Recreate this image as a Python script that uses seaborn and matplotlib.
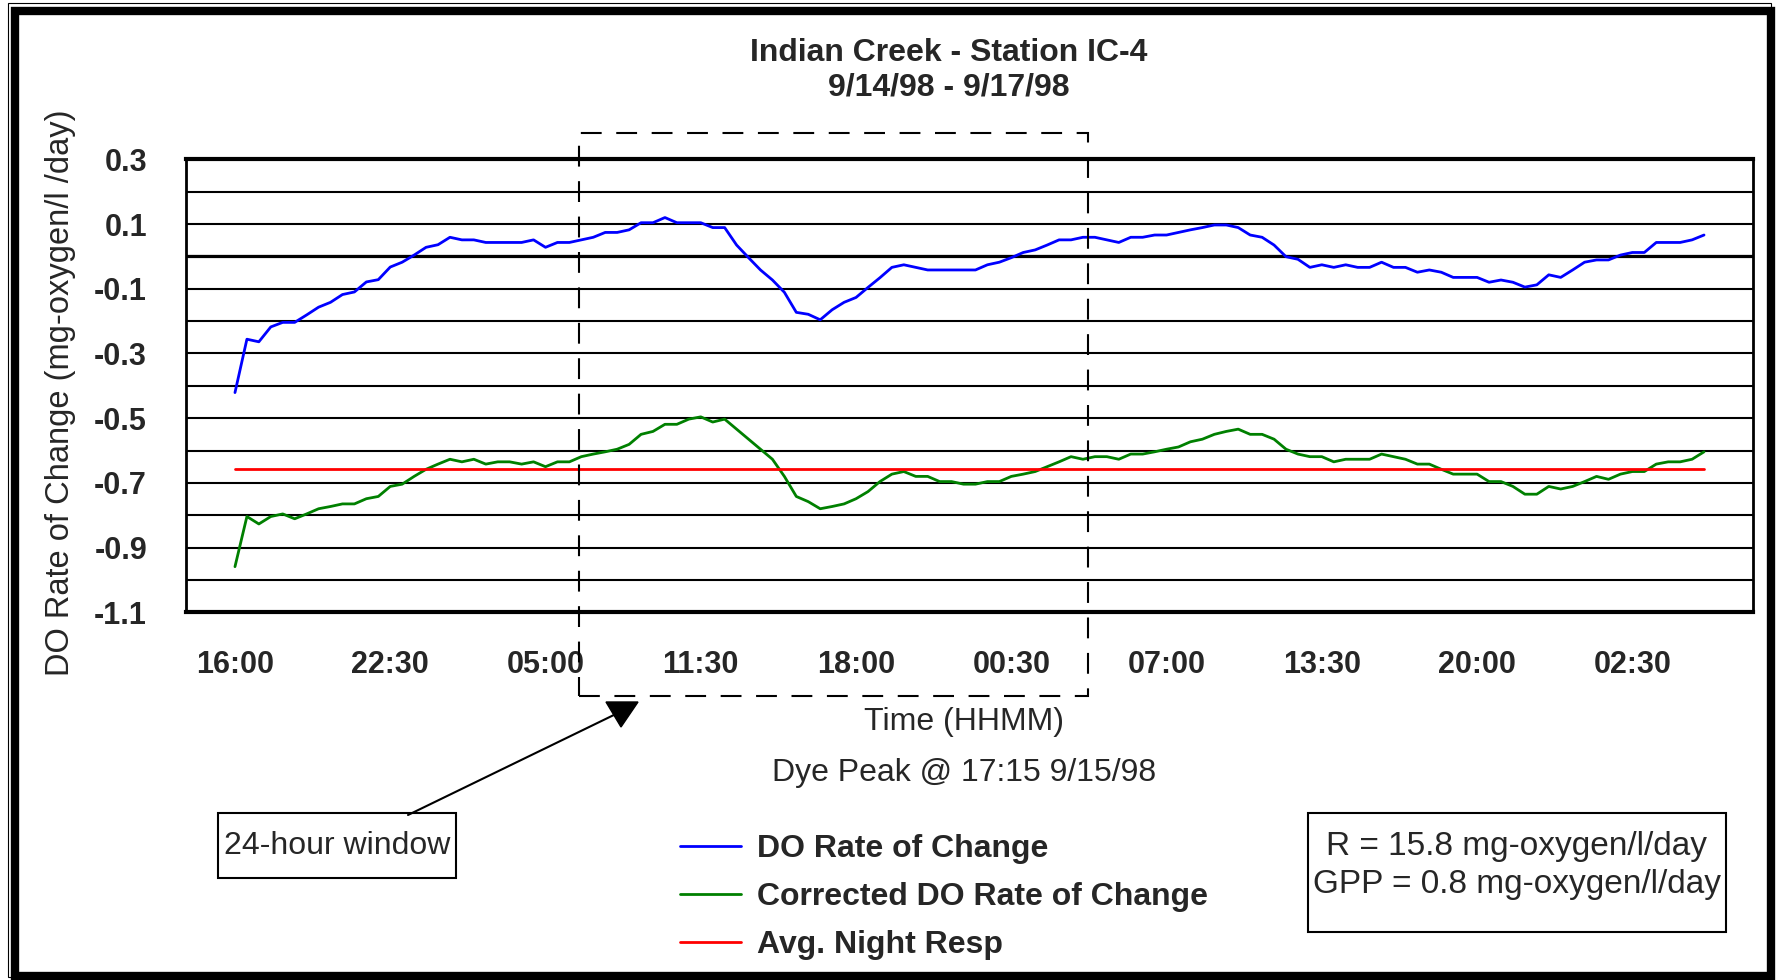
import numpy as np
import pandas as pd
import matplotlib
matplotlib.use("Agg")
import matplotlib.pyplot as plt
import matplotlib.dates as mdates
import matplotlib.transforms as mtransforms
from matplotlib.patches import Rectangle, Polygon
from matplotlib.lines import Line2D
import seaborn as sns

# ---- data (30 min steps starting 9/14/98 16:00) ----
title_lines = ["Indian Creek - Station IC-4", "9/14/98 - 9/17/98"]
start_time = "1998-09-14 16:00"

do_rate = [
    -0.421, -0.256, -0.264, -0.218, -0.204, -0.204, -0.181, -0.157, -0.142, -0.118,
    -0.110, -0.079, -0.072, -0.033, -0.018, 0.004, 0.028, 0.036, 0.059, 0.051,
    0.051, 0.043, 0.043, 0.043, 0.043, 0.051, 0.028, 0.043, 0.043, 0.051,
    0.059, 0.074, 0.074, 0.082, 0.104, 0.104, 0.120, 0.104, 0.104, 0.104,
    0.089, 0.089, 0.035, -0.004, -0.042, -0.073, -0.111, -0.173, -0.179, -0.196,
    -0.165, -0.142, -0.127, -0.096, -0.066, -0.034, -0.026, -0.034, -0.042, -0.042,
    -0.042, -0.042, -0.042, -0.026, -0.018, -0.004, 0.012, 0.020, 0.035, 0.051,
    0.051, 0.059, 0.059, 0.051, 0.043, 0.059, 0.059, 0.066, 0.066, 0.074,
    0.082, 0.089, 0.097, 0.097, 0.089, 0.066, 0.059, 0.035, -0.001, -0.009,
    -0.034, -0.026, -0.034, -0.026, -0.034, -0.034, -0.018, -0.034, -0.034, -0.049,
    -0.042, -0.049, -0.065, -0.065, -0.065, -0.080, -0.073, -0.080, -0.095, -0.088,
    -0.057, -0.065, -0.042, -0.018, -0.011, -0.011, 0.004, 0.012, 0.012, 0.043,
    0.043, 0.043, 0.051, 0.066,
]

corrected_do_rate = [
    -0.959, -0.804, -0.827, -0.804, -0.796, -0.811, -0.796, -0.780, -0.773, -0.765,
    -0.765, -0.749, -0.742, -0.711, -0.704, -0.680, -0.658, -0.642, -0.627, -0.635,
    -0.627, -0.642, -0.635, -0.635, -0.642, -0.635, -0.650, -0.635, -0.635, -0.619,
    -0.611, -0.604, -0.596, -0.581, -0.550, -0.541, -0.519, -0.519, -0.503, -0.496,
    -0.512, -0.503, -0.534, -0.565, -0.596, -0.627, -0.680, -0.742, -0.758, -0.780,
    -0.773, -0.765, -0.749, -0.727, -0.696, -0.673, -0.665, -0.680, -0.680, -0.696,
    -0.696, -0.704, -0.704, -0.696, -0.696, -0.680, -0.673, -0.665, -0.650, -0.635,
    -0.619, -0.627, -0.619, -0.619, -0.627, -0.611, -0.611, -0.604, -0.596, -0.589,
    -0.573, -0.565, -0.550, -0.541, -0.534, -0.550, -0.550, -0.565, -0.596, -0.611,
    -0.619, -0.619, -0.635, -0.627, -0.627, -0.627, -0.611, -0.619, -0.627, -0.642,
    -0.642, -0.658, -0.673, -0.673, -0.673, -0.696, -0.696, -0.711, -0.735, -0.735,
    -0.711, -0.719, -0.711, -0.696, -0.680, -0.689, -0.673, -0.665, -0.665, -0.642,
    -0.635, -0.635, -0.627, -0.604,
]

avg_night_resp = -0.658

tick_labels = ["16:00", "22:30", "05:00", "11:30", "18:00",
               "00:30", "07:00", "13:30", "20:00", "02:30"]
y_major = [0.3, 0.1, -0.1, -0.3, -0.5, -0.7, -0.9, -1.1]
y_minor = [0.2, 0.0, -0.2, -0.4, -0.6, -0.8, -1.0]

series_names = ["DO Rate of Change", "Corrected DO Rate of Change", "Avg. Night Resp"]
series_colors = ["#0000ff", "#008000", "#ff0000"]

window_start = "1998-09-15 06:24"
window_end = "1998-09-16 03:42"
stats_text = ["R = 15.8 mg-oxygen/l/day", "GPP = 0.8 mg-oxygen/l/day"]

# ---- table ----
times = pd.date_range(start_time, periods=len(do_rate), freq="30min")
df = pd.DataFrame({
    "time": times,
    series_names[0]: do_rate,
    series_names[1]: corrected_do_rate,
    series_names[2]: [avg_night_resp] * len(do_rate),
})
long_df = df.melt(id_vars="time", var_name="series", value_name="rate")

# ---- figure ----
sns.set_style("white")
plt.rcParams["font.family"] = ["Liberation Sans", "DejaVu Sans"]

W, H = 1778, 980
fig = plt.figure(figsize=(W / 100, H / 100), dpi=100)
ax = fig.add_axes([186 / W, 1 - 612.3 / H, (1753 - 186) / W, (612.3 - 159.3) / H])

def px(x, y):
    return x / W, 1 - y / H

sns.lineplot(data=long_df, x="time", y="rate", hue="series", hue_order=series_names,
             palette=series_colors, linewidth=2, ax=ax, legend=False, zorder=5)

t0 = pd.Timestamp(start_time)
ax.set_xlim(t0 - pd.Timedelta(minutes=123), t0 + pd.Timedelta(minutes=3813))
ax.set_ylim(-1.1, 0.3)

ticks = pd.date_range(start_time, periods=len(tick_labels), freq="390min")
ax.set_xticks(ticks)
ax.set_xticklabels(tick_labels, fontsize=22, fontweight="bold")
ax.set_yticks(y_major)
ax.set_yticklabels([f"{v:.1f}" for v in y_major], fontsize=22, fontweight="bold")
ax.set_yticks(y_minor, minor=True)
ax.tick_params(axis="both", which="both", length=0)
ax.tick_params(axis="y", pad=28)
ax.tick_params(axis="x", pad=27)

ax.yaxis.grid(True, which="both", color="black", linewidth=1.5)
ax.xaxis.grid(False)
ax.axhline(0, color="black", linewidth=2.3, zorder=1)
ax.set_axisbelow(True)
for side in ["top", "bottom"]:
    ax.spines[side].set_linewidth(3)
    ax.spines[side].set_color("black")
for side in ["left", "right"]:
    ax.spines[side].set_linewidth(2)
    ax.spines[side].set_color("black")

ax.set_xlabel("Time (HHMM)", fontsize=23)
ax.xaxis.set_label_coords((964 - 186) / 1567, -0.21)
ax.set_ylabel("DO Rate of Change (mg-oxygen/l /day)", fontsize=23.5)
ax.yaxis.set_label_coords((76 - 186) / 1567, 0.485)

# dashed 24-hour window box
trans = mtransforms.blended_transform_factory(ax.transData, ax.transAxes)
x0 = mdates.date2num(pd.Timestamp(window_start))
x1 = mdates.date2num(pd.Timestamp(window_end))
ax.add_patch(Rectangle((x0, -0.185), x1 - x0, 1.243, transform=trans, fill=False,
                       edgecolor="black", linewidth=1.5, linestyle=(0, (10, 7)),
                       clip_on=False, zorder=6))

# titles and texts
fig.text(*px(949, 53), title_lines[0], ha="center", va="center", fontsize=23, fontweight="bold")
fig.text(*px(949, 87), title_lines[1], ha="center", va="center", fontsize=23, fontweight="bold")
fig.text(*px(964, 773), "Dye Peak @ 17:15 9/15/98", ha="center", va="center", fontsize=23)

# 24-hour window callout
fig.add_artist(Rectangle(px(218, 878), 238 / W, 65 / H, transform=fig.transFigure,
                         fill=False, edgecolor="black", linewidth=1.5))
fig.text(*px(337, 846), "24-hour window", ha="center", va="center", fontsize=23)
fig.add_artist(Line2D([408 / W, 620 / W], [1 - 815 / H, 1 - 712 / H],
                      transform=fig.transFigure, color="black", linewidth=1.5))
fig.add_artist(Polygon([px(606, 702), px(638, 702), px(621, 727)], closed=True,
                       transform=fig.transFigure, facecolor="black", edgecolor="black"))

# stats box
fig.add_artist(Rectangle(px(1308, 932), 418 / W, 119 / H, transform=fig.transFigure,
                         fill=False, edgecolor="black", linewidth=1.5))
fig.text(*px(1517, 846), stats_text[0], ha="center", va="center", fontsize=24)
fig.text(*px(1517, 884), stats_text[1], ha="center", va="center", fontsize=24)

# legend
handles = [Line2D([], [], color=c, linewidth=2) for c in series_colors]
fig.legend(handles, series_names, loc="upper left", bbox_to_anchor=px(680, 834),
           frameon=False, borderpad=0, borderaxespad=0, handlelength=1.9,
           handletextpad=0.5, labelspacing=0.56,
           prop={"size": 23, "weight": "bold"})

# outer double frame
fig.add_artist(Rectangle(px(7.5, 976.5), 1763 / W, 973 / H, transform=fig.transFigure,
                         fill=False, edgecolor="black", linewidth=0.8))
fig.add_artist(Rectangle(px(15, 976), 1756 / W, 965 / H, transform=fig.transFigure,
                         fill=False, edgecolor="black", linewidth=6))

fig.savefig("out.png", dpi=100)
